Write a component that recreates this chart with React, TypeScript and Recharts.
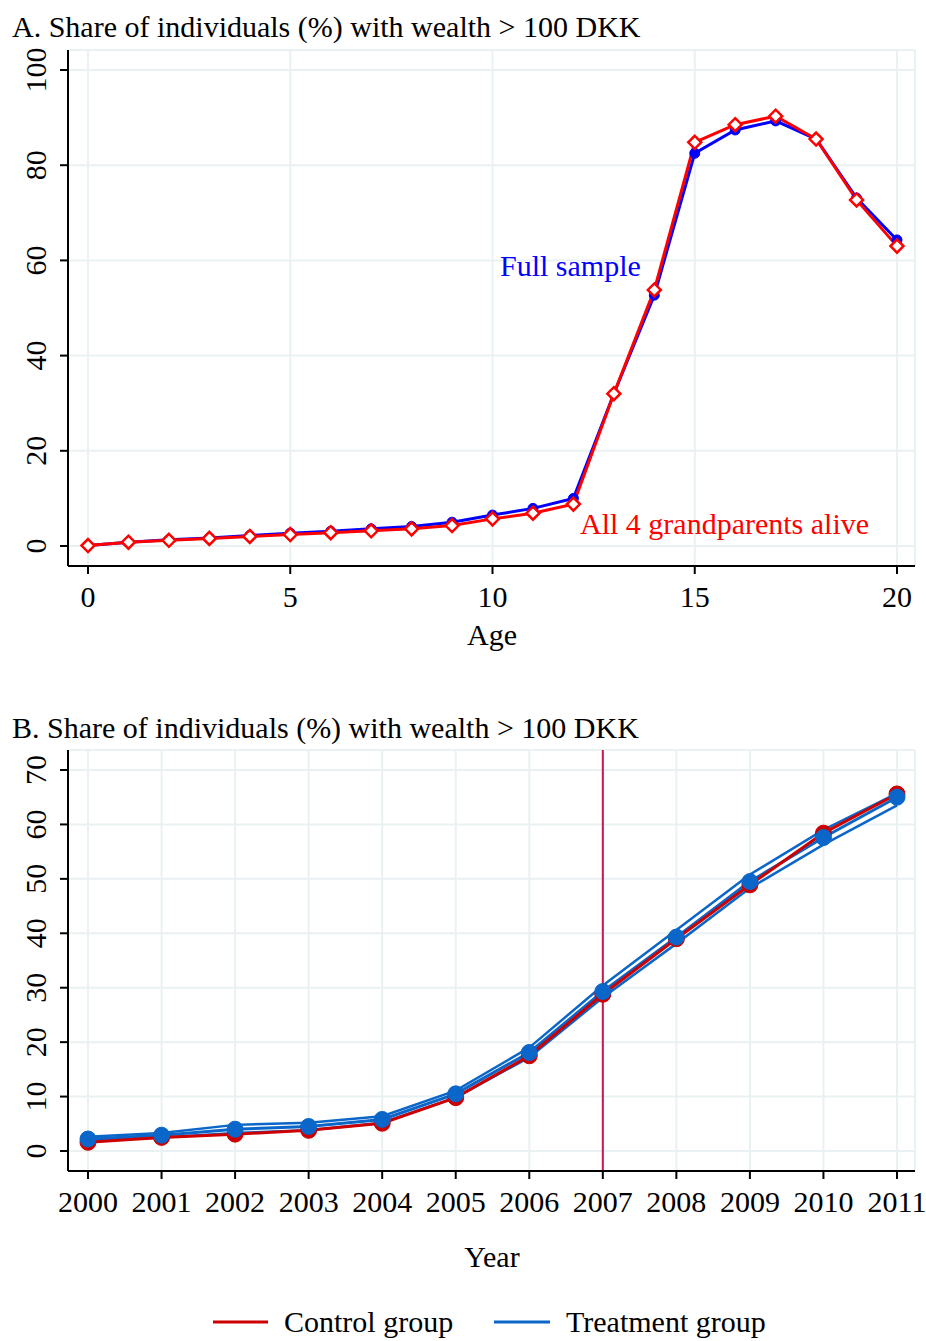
import { CartesianGrid, Line, LineChart, ReferenceLine, XAxis, YAxis } from "recharts"

// panel A: share with wealth > 100 DKK by age
const ages = [0, 1, 2, 3, 4, 5, 6, 7, 8, 9, 10, 11, 12, 13, 14, 15, 16, 17, 18, 19, 20]
const fullSample = [0.1, 0.8, 1.3, 1.7, 2.2, 2.7, 3.1, 3.6, 4.1, 5.0, 6.5, 7.9, 10.0, 32.0, 52.7, 82.5, 87.4, 89.3, 85.5, 73.1, 64.3]
const grandparentsAlive = [0.1, 0.8, 1.2, 1.6, 2.0, 2.4, 2.8, 3.2, 3.6, 4.3, 5.7, 6.9, 8.8, 32.0, 53.8, 84.8, 88.5, 90.3, 85.5, 72.7, 63.0]
const ageTicks = [0, 5, 10, 15, 20]
const shareTicksA = [0, 20, 40, 60, 80, 100]

// panel B: share by year, control vs treatment
const years = [2000, 2001, 2002, 2003, 2004, 2005, 2006, 2007, 2008, 2009, 2010, 2011]
const control = [1.6, 2.5, 3.1, 3.8, 5.1, 9.8, 17.5, 28.8, 39.0, 48.9, 58.4, 65.6]
const treatment = [2.2, 2.9, 4.0, 4.5, 5.8, 10.5, 18.1, 29.3, 39.3, 49.5, 57.6, 65.0]
const treatmentUpper = [2.6, 3.3, 4.8, 5.2, 6.4, 11.1, 19.0, 30.4, 40.6, 50.8, 59.0, 65.7]
const treatmentLower = [1.9, 2.5, 3.3, 3.8, 5.2, 9.8, 17.2, 28.2, 38.1, 48.3, 56.3, 63.5]
const shareTicksB = [0, 10, 20, 30, 40, 50, 60, 70]
const reformYear = 2007

const FONT = "'Liberation Serif', 'Times New Roman', serif"
const FS = 30
const GRID = "#e9f1f3"
const RED_A = "#ff0000"
const BLUE_A = "#0000ff"
const RED_B = "#cc0000"
const BLUE_B = "#0a66c8"

const dataA = ages.map((a, i) => ({ age: a, full: fullSample[i], gp: grandparentsAlive[i] }))
const dataB = years.map((y, i) => ({
  year: y,
  control: control[i],
  treat: treatment[i],
  hi: treatmentUpper[i],
  lo: treatmentLower[i],
}))

const XTick = (p: any) => (
  <text x={p.x} y={p.y + 31} textAnchor="middle" fontFamily={FONT} fontSize={FS} fill="#000">
    {p.payload.value}
  </text>
)

const YTick = (p: any) => (
  <text
    transform={`translate(${p.x - 12},${p.y}) rotate(-90)`}
    textAnchor="middle"
    fontFamily={FONT}
    fontSize={FS}
    fill="#000"
  >
    {p.payload.value}
  </text>
)

const Diamond = (p: any) => {
  const { cx, cy, index } = p
  if (cx == null || cy == null) return <g key={index} />
  const s = 6.5
  return (
    <path
      key={index}
      d={`M${cx},${cy - s} L${cx + s},${cy} L${cx},${cy + s} L${cx - s},${cy} Z`}
      fill="#fff"
      stroke={RED_A}
      strokeWidth={2.5}
    />
  )
}

const axisLine = { stroke: "#000", strokeWidth: 2 }
const tickLine = { stroke: "#000", strokeWidth: 2 }

export default function App() {
  return (
    <div style={{ position: "absolute", left: 0, top: 0, width: 926, height: 1341, background: "#fff" }}>
      <div style={{ position: "absolute", left: 0, top: 0 }}>
        <LineChart width={926} height={660} data={dataA} margin={{ top: 50, right: 11, bottom: 0, left: 0 }}>
          <CartesianGrid stroke={GRID} strokeWidth={2} />
          <XAxis
            dataKey="age"
            type="number"
            domain={[0, 20]}
            ticks={ageTicks}
            padding={{ left: 20, right: 18 }}
            height={94}
            tickSize={8}
            tick={XTick}
            axisLine={axisLine}
            tickLine={tickLine}
          />
          <YAxis
            type="number"
            domain={[0, 100]}
            ticks={shareTicksA}
            padding={{ top: 20, bottom: 20 }}
            width={68}
            tickSize={8}
            tick={YTick}
            axisLine={axisLine}
            tickLine={tickLine}
          />
          <Line
            dataKey="full"
            stroke={BLUE_A}
            strokeWidth={3}
            dot={{ r: 5, fill: BLUE_A, stroke: BLUE_A, strokeWidth: 1 }}
            isAnimationActive={false}
          />
          <Line dataKey="gp" stroke={RED_A} strokeWidth={3} dot={Diamond} isAnimationActive={false} />
        </LineChart>
      </div>

      <div style={{ position: "absolute", left: 0, top: 700 }}>
        <LineChart width={926} height={641} data={dataB} margin={{ top: 50, right: 11, bottom: 0, left: 0 }}>
          <CartesianGrid stroke={GRID} strokeWidth={2} />
          <XAxis
            dataKey="year"
            type="number"
            domain={[2000, 2011]}
            ticks={years}
            padding={{ left: 20, right: 18 }}
            height={170}
            tickSize={8}
            tick={XTick}
            axisLine={axisLine}
            tickLine={tickLine}
          />
          <YAxis
            type="number"
            domain={[0, 70]}
            ticks={shareTicksB}
            padding={{ top: 20, bottom: 20 }}
            width={68}
            tickSize={8}
            tick={YTick}
            axisLine={axisLine}
            tickLine={tickLine}
          />
          <ReferenceLine x={reformYear} stroke="#c8184a" strokeWidth={2} />
          <Line dataKey="hi" stroke={BLUE_B} strokeWidth={2.5} dot={false} isAnimationActive={false} />
          <Line dataKey="lo" stroke={BLUE_B} strokeWidth={2.5} dot={false} isAnimationActive={false} />
          <Line dataKey="treat" stroke={BLUE_B} strokeWidth={3} dot={false} isAnimationActive={false} />
          <Line
            dataKey="control"
            stroke={RED_B}
            strokeWidth={3}
            dot={{ r: 8, fill: RED_B, stroke: RED_B, strokeWidth: 1 }}
            isAnimationActive={false}
          />
          <Line
            dataKey="treat"
            stroke="none"
            dot={{ r: 8, fill: BLUE_B, stroke: BLUE_B, strokeWidth: 1 }}
            isAnimationActive={false}
          />
        </LineChart>
      </div>

      <svg
        width={926}
        height={1341}
        style={{ position: "absolute", left: 0, top: 0, pointerEvents: "none" }}
        fontFamily={FONT}
        fontSize={FS}
      >
        <text x={12} y={37} fill="#000">A. Share of individuals (%) with wealth &gt; 100 DKK</text>
        <text x={492} y={645} textAnchor="middle" fill="#000">Age</text>
        <text x={500} y={276} fill={BLUE_A}>Full sample</text>
        <text x={580} y={534} fill={RED_A}>All 4 grandparents alive</text>

        <text x={12} y={738} fill="#000">B. Share of individuals (%) with wealth &gt; 100 DKK</text>
        <text x={492} y={1267} textAnchor="middle" fill="#000">Year</text>
        <line x1={213} y1={1322} x2={268} y2={1322} stroke={RED_B} strokeWidth={3} />
        <text x={284} y={1332} fill="#000">Control group</text>
        <line x1={494} y1={1322} x2={550} y2={1322} stroke={BLUE_B} strokeWidth={3} />
        <text x={566} y={1332} fill="#000">Treatment group</text>
      </svg>
    </div>
  )
}
